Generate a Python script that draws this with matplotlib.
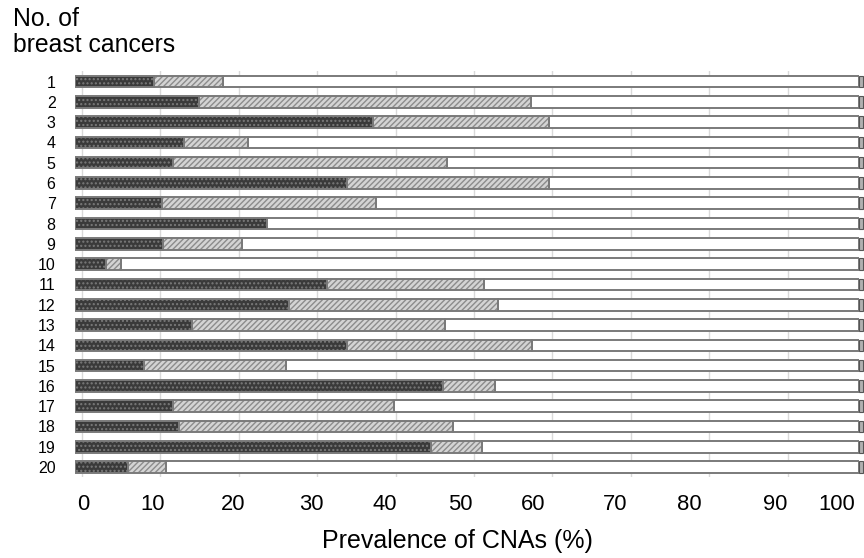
import matplotlib
matplotlib.use("Agg")
import matplotlib.pyplot as plt
import numpy as np

plt.rcParams["font.family"] = ["Liberation Sans", "DejaVu Sans"]

# Data: cumulative prevalence of CNAs per breast cancer (%)
cancers = [str(i) for i in range(1, 21)]
dark_pct = [10.1, 15.8, 38.0, 13.9, 12.5, 34.7, 11.1, 24.5, 11.2, 4.0,
            32.1, 27.3, 14.9, 34.7, 8.8, 46.9, 12.5, 13.3, 45.4, 6.8]
cum_pct = [18.9, 58.2, 60.5, 22.1, 47.4, 60.5, 38.4, 24.5, 21.3, 5.9,
           52.2, 54.0, 47.2, 58.3, 26.9, 53.6, 40.7, 48.2, 51.9, 11.6]
total_pct = [100] * 20
xtick_labels = ["0", "10", "20", "30", "40", "50", "60", "70", "80", "90", "100"]

dark = np.array(dark_pct)
hatched = np.array(cum_pct) - dark
rest = np.array(total_pct) - np.array(cum_pct)
y = np.arange(1, 21)

fig = plt.figure(figsize=(8.64, 5.58), dpi=100)
ax = fig.add_axes([0.0868, 0.1448, 0.9074, 0.7273])

# gridlines, shifted a little by the 3-D depth of the original chart
depth = 0.9
for v in range(0, 101, 10):
    ax.axvline(v + depth, color="#d9d9d9", lw=1.0, zorder=0)

h = 0.57
edge = "#7a7a7a"

# patterned fills
ax.barh(y, dark, height=h, color="#3a3a3a", hatch="....", edgecolor="#7a7a7a",
        linewidth=0, zorder=2)
ax.barh(y, hatched, left=dark, height=h, color="#d4d4d4", hatch="//////",
        edgecolor="#8c8c8c", linewidth=0, zorder=2)
ax.barh(y, rest, left=cum_pct, height=h, color="white", linewidth=0, zorder=2)

# outlines
for left, width in [(np.zeros(20), dark), (dark, hatched), (np.array(cum_pct), rest)]:
    ax.barh(y, width, left=left, height=h, fill=False, edgecolor=edge,
            linewidth=1.4, zorder=3)

# end caps
ax.barh(y, 0.5, left=total_pct, height=h, color="#b0b0b0", edgecolor="#555555",
        linewidth=0.8, zorder=3, clip_on=False)

ax.set_xlim(0, 100)
ax.set_ylim(20.5, 0.5)
ax.set_yticks(y)
ax.set_yticklabels(cancers, fontsize=11.5)

# tick labels placed where they sit in the original
xtick_pos = [1.0, 9.9, 20.2, 30.2, 39.5, 49.1, 58.4, 68.9, 78.4, 89.3, 97.2]
ax.set_xticks(xtick_pos)
ax.set_xticklabels(xtick_labels, fontsize=15.8)
ax.tick_params(axis="both", length=0)
ax.tick_params(axis="x", pad=12)
ax.tick_params(axis="y", pad=14)
for s in ax.spines.values():
    s.set_visible(False)

fig.text(13 / 864, 1 - 7 / 558, "No. of\nbreast cancers", ha="left", va="top",
         fontsize=17.8, linespacing=1.12)
fig.text(457 / 864, 1 - 541 / 558, "Prevalence of CNAs (%)", ha="center",
         va="center", fontsize=18)

fig.savefig("out.png", dpi=100)
